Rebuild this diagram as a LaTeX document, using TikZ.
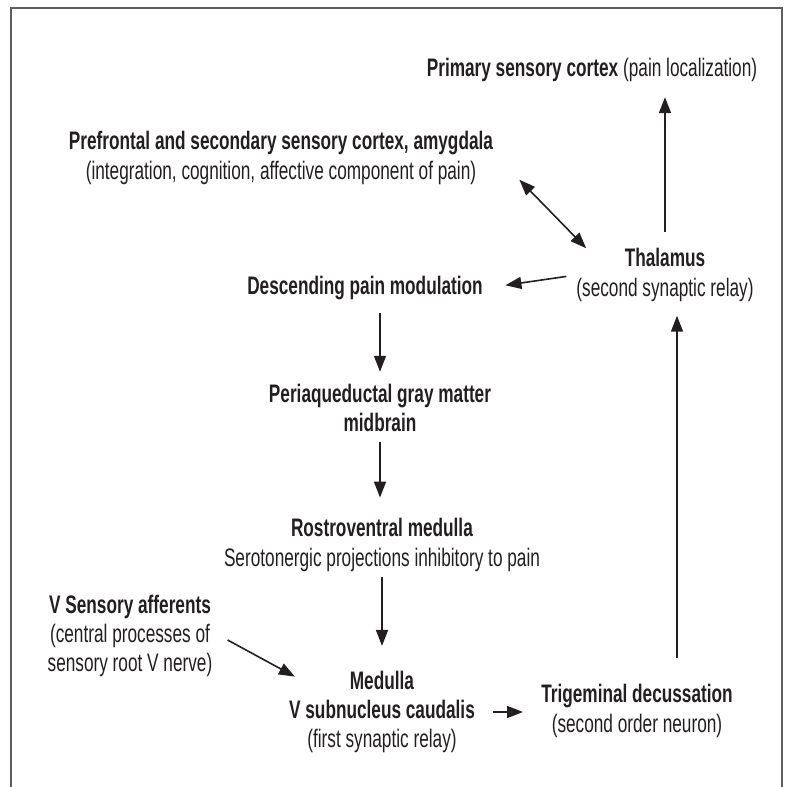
\documentclass[tikz,border=0pt]{standalone}
\usepackage{fontspec}
\setmainfont{Liberation Sans}[FakeStretch=0.68]
\usetikzlibrary{arrows.meta}
\definecolor{Ink}{HTML}{231F20}
\definecolor{Frame}{HTML}{5E5E5E}
\tikzset{TextStyle/.style = {inner sep=0pt, align=center, text=Ink,
    font=\fontsize{19}{22}\selectfont}}
\tikzset{EdgeStyle/.style = {draw=Ink, line width=1.2pt,
    >={Triangle[length=12pt,width=9pt]}, ->}}

\begin{document}
\begin{tikzpicture}[x=0.75pt,y=-0.75pt]
  \useasboundingbox (0,0) rectangle (790,787);
  \draw[Frame, line width=1.2pt] (11,787) -- (11,8) -- (782,8) -- (782,787);
  \node[TextStyle, anchor=base] (Pri) at (592,77) {\textbf{Primary sensory cortex} (pain localization)};
  \node[TextStyle] (Pre) at (281,158) {\textbf{Prefrontal and secondary sensory cortex, amygdala}\\(integration, cognition, affective component of pain)};
  \node[TextStyle] (Thal) at (665,275) {\textbf{Thalamus}\\(second synaptic relay)};
  \node[TextStyle, anchor=base] (Desc) at (365,295) {\textbf{Descending pain modulation}};
  \node[TextStyle] (Pag) at (380,408) {\textbf{Periaqueductal gray matter}\\\textbf{midbrain}};
  \node[TextStyle] (Rvm) at (382,545) {\textbf{Rostroventral medulla}\\Serotonergic projections inhibitory to pain};
  \node[TextStyle] (Vsa) at (130,636) {\textbf{V Sensory afferents}\\(central processes of\\sensory root V nerve)};
  \node[TextStyle] (Med) at (382,712) {\textbf{Medulla}\\\textbf{V subnucleus caudalis}\\(first synaptic relay)};
  \node[TextStyle] (Tri) at (637,711) {\textbf{Trigeminal decussation}\\(second order neuron)};
  \coordinate (Up) at ([xshift=9pt]Thal.south);
  \draw[EdgeStyle, shorten <=12.5pt, shorten >=11pt] (Thal.north) -- (Thal.north |- Pri.south);
  \draw[EdgeStyle, <->] ([shift={(26,-5)}]Pre.south east) -- ([shift={(10,0)}]Thal.north west);
  \draw[EdgeStyle, shorten <=7.5pt, shorten >=17pt] (Thal.west) -- (Desc.east);
  \draw[EdgeStyle, shorten <=9.5pt, shorten >=9pt] (Pag.north |- Desc.south) -- (Pag.north);
  \draw[EdgeStyle, shorten <=7pt, shorten >=15.5pt] (Pag.south) -- (Pag.south |- Rvm.north);
  \draw[EdgeStyle, shorten <=4pt, shorten >=18.5pt] (Rvm.south) -- (Rvm.south |- Med.north);
  \draw[EdgeStyle] ([shift={(15,4)}]Vsa.east) -- ([shift={(6,6)}]Med.north west);
  \draw[EdgeStyle, shorten <=13.5pt, shorten >=13.5pt] (Med.east) -- (Med.east -| Tri.west);
  \draw[EdgeStyle, shorten <=20pt, shorten >=10.5pt] (Up |- Tri.north) -- (Up);
\end{tikzpicture}
\end{document}
